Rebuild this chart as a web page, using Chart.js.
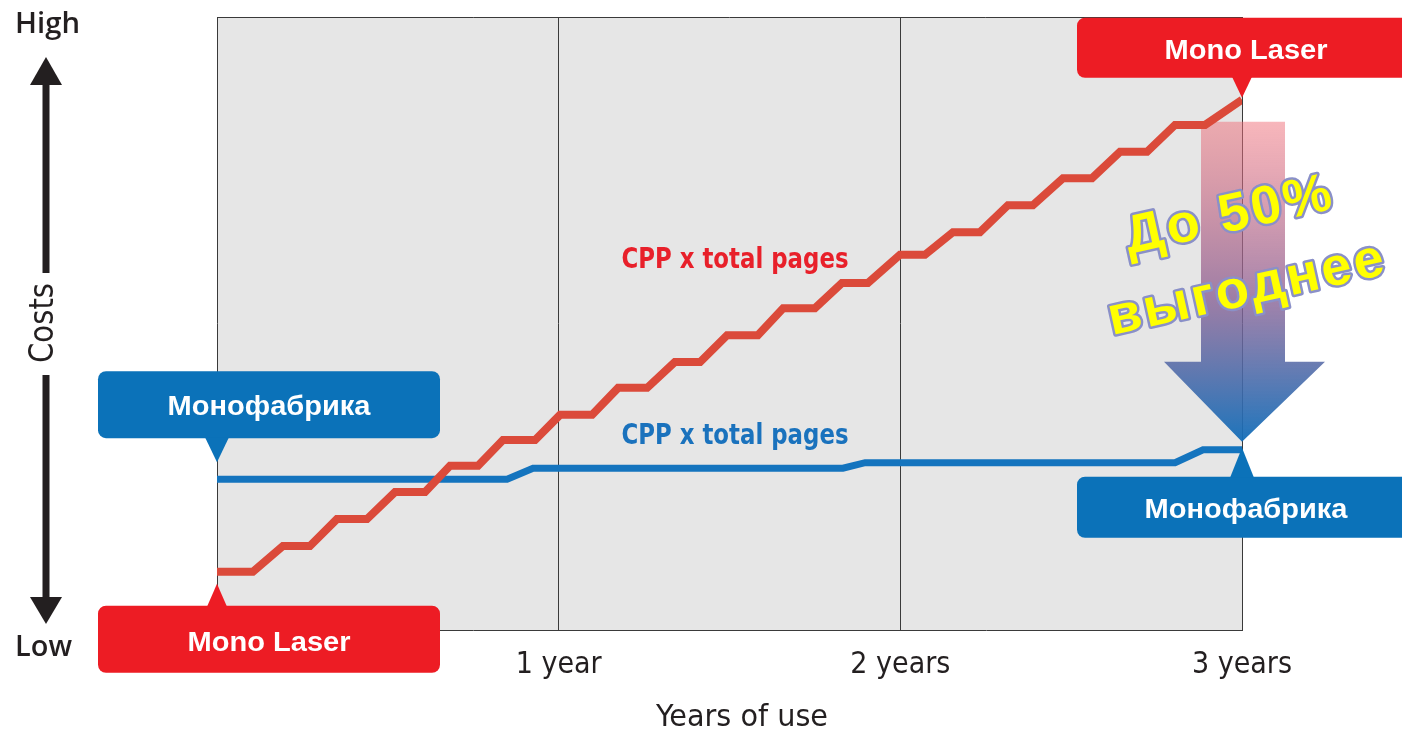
<!DOCTYPE html>
<html lang="ru">
<head>
<meta charset="UTF-8">
<title>Costs vs years of use</title>
<script src="https://cdn.jsdelivr.net/npm/chart.js"></script>
<style>
  html, body { margin: 0; padding: 0; background: #fff; }
  #grafico { display: block; }
</style>
</head>
<body>
<canvas id="grafico" width="1402" height="731"></canvas>
<script>
// values: x in years, y in cost units (0 = low, 100 = high)
var redX = [0, 0.105, 0.193, 0.272, 0.351, 0.439, 0.521, 0.609, 0.682, 0.764, 0.837, 0.931,
    1.004, 1.098, 1.174, 1.259, 1.340, 1.414, 1.493, 1.583, 1.657, 1.750, 1.829, 1.905,
    1.999, 2.072, 2.154, 2.233, 2.315, 2.388, 2.476, 2.561, 2.643, 2.722, 2.804, 2.892, 3.0];
var redY = [9.5, 9.5, 13.7, 13.7, 18.1, 18.1, 22.5, 22.5, 26.8, 26.8, 31.0, 31.0,
    35.1, 35.1, 39.5, 39.5, 43.7, 43.7, 48.1, 48.1, 52.5, 52.5, 56.6, 56.6,
    61.2, 61.2, 64.9, 64.9, 69.3, 69.3, 73.7, 73.7, 78.0, 78.0, 82.4, 82.4, 86.5];
var blueX = [0, 0.849, 0.925, 1.832, 1.897, 2.804, 2.886, 3.0];
var blueY = [24.6, 24.6, 26.4, 26.4, 27.3, 27.3, 29.4, 29.4];

var xTickValues = [0, 1, 2, 3];
var xTickLabels = ['', '1 year', '2 years', '3 years'];
var xTitle = 'Years of use';
var seriesText = 'CPP x total pages';
var nameMono = 'Монофабрика';
var nameLaser = 'Mono Laser';
var savingLines = ['До 50%', 'выгоднее'];

function hasFont(name) {
    var c = document.createElement('canvas').getContext('2d');
    var s = 'mmmmmwwwiilll 1 years';
    c.font = '40px monospace';
    var a = c.measureText(s).width;
    c.font = '40px "' + name + '", monospace';
    return c.measureText(s).width !== a;
}
var narrowName = ['Liberation Sans Narrow', 'DejaVu Sans Condensed', 'Roboto Condensed'].find(hasFont);
var narrow = narrowName ? '"' + narrowName + '"' : 'Roboto';

function pontos(xs, ys) {
    var out = [];
    for (var i = 0; i < xs.length; i++) out.push({ x: xs[i], y: ys[i] });
    return out;
}

// text squeezed/stretched to the width it has in the picture
function fitText(ctx, text, x, y, width, font, color, rot) {
    ctx.save();
    ctx.font = font;
    ctx.fillStyle = color;
    ctx.textAlign = 'center';
    ctx.textBaseline = 'alphabetic';
    var m = ctx.measureText(text).width;
    ctx.translate(x, y);
    if (rot) ctx.rotate(rot);
    ctx.scale(width / m, 1);
    ctx.fillText(text, 0, 0);
    ctx.restore();
}

function drawBox(ctx, bx, by, bw, bh, tipX, tipY, baseY, half, color) {
    ctx.save();
    ctx.fillStyle = color;
    ctx.beginPath();
    ctx.roundRect(bx, by, bw, bh, 8);
    ctx.fill();
    ctx.beginPath();
    ctx.moveTo(tipX - half, baseY);
    ctx.lineTo(tipX, tipY);
    ctx.lineTo(tipX + half, baseY);
    ctx.closePath();
    ctx.fill();
    ctx.restore();
}

var decor = {
    id: 'decor',
    beforeDraw: function (chart) {
        var a = chart.chartArea, ctx = chart.ctx;
        ctx.save();
        ctx.fillStyle = '#e6e6e6';
        ctx.fillRect(a.left, a.top, a.right - a.left, a.bottom - a.top);
        ctx.restore();
    },
    beforeDatasetsDraw: function (chart) {
        var a = chart.chartArea, ctx = chart.ctx;
        var xs = chart.scales.x, ys = chart.scales.y;
        ctx.save();
        ctx.strokeStyle = '#3a3a3a';
        ctx.lineWidth = 1;
        ctx.beginPath();
        ctx.moveTo(a.left, a.top + 0.5);
        ctx.lineTo(a.right, a.top + 0.5);
        ctx.stroke();

        // big arrow from the laser end down to the Монофабрика end
        var cx = xs.getPixelForValue(3);
        var top = ys.getPixelForValue(redY[redY.length - 1]) + 22;
        var tip = ys.getPixelForValue(blueY[blueY.length - 1]) - 8;
        var headY = tip - 80;
        var g = ctx.createLinearGradient(0, top, 0, tip);
        g.addColorStop(0, 'rgba(240,110,120,0.5)');
        g.addColorStop(0.55, 'rgba(140,100,150,0.8)');
        g.addColorStop(1, 'rgba(18,110,185,0.95)');
        ctx.fillStyle = g;
        ctx.beginPath();
        ctx.moveTo(cx - 41, top);
        ctx.lineTo(cx + 43, top);
        ctx.lineTo(cx + 43, headY);
        ctx.lineTo(cx + 83, headY);
        ctx.lineTo(cx, tip);
        ctx.lineTo(cx - 78, headY);
        ctx.lineTo(cx - 41, headY);
        ctx.closePath();
        ctx.fill();
        ctx.restore();
    },
    afterDatasetsDraw: function (chart) {
        var ctx = chart.ctx;
        fitText(ctx, seriesText, 735, 268, 227, 'bold 29px ' + narrow, '#e8202a');
        fitText(ctx, seriesText, 735, 444, 227, 'bold 29px ' + narrow, '#1a72bd');
    },
    afterDraw: function (chart) {
        var ctx = chart.ctx;
        var xs = chart.scales.x, ys = chart.scales.y;
        var x0 = xs.getPixelForValue(0), x3 = xs.getPixelForValue(3);
        var blue0 = ys.getPixelForValue(blueY[0]);
        var red0 = ys.getPixelForValue(redY[0]);
        var redEnd = ys.getPixelForValue(redY[redY.length - 1]);
        var blueEnd = ys.getPixelForValue(blueY[blueY.length - 1]);
        var boxFont = 'bold 28px "Liberation Sans", Arial, sans-serif';

        drawBox(ctx, x0 - 119, blue0 - 108, 342, 67, x0, blue0 - 17, blue0 - 42, 12, '#0b72b9');
        fitText(ctx, nameMono, x0 + 52, blue0 - 64, 203, boxFont, '#fff');

        drawBox(ctx, x0 - 119, red0 + 34, 342, 67, x0, red0 + 12, red0 + 35, 10, '#ed1c24');
        fitText(ctx, nameLaser, x0 + 52, red0 + 79, 163, boxFont, '#fff');

        drawBox(ctx, x3 - 165, redEnd - 82, 420, 60, x3, redEnd - 2, redEnd - 23, 10, '#ed1c24');
        fitText(ctx, nameLaser, x3 + 4, redEnd - 41, 163, boxFont, '#fff');

        drawBox(ctx, x3 - 165, blueEnd + 27, 420, 61, x3, blueEnd - 2, blueEnd + 28, 12, '#0b72b9');
        fitText(ctx, nameMono, x3 + 4, blueEnd + 68, 203, boxFont, '#fff');

        // x axis title, placed where the picture has it
        fitText(ctx, xTitle, 742, 726, 172, '31px ' + narrow, '#231f20');

        // Costs axis: double arrow
        ctx.save();
        ctx.fillStyle = '#231f20';
        ctx.fillRect(42.5, 84, 7, 189);
        ctx.fillRect(42.5, 375, 7, 223);
        ctx.beginPath();
        ctx.moveTo(30, 85); ctx.lineTo(46, 57); ctx.lineTo(62, 85); ctx.closePath(); ctx.fill();
        ctx.beginPath();
        ctx.moveTo(30, 597); ctx.lineTo(46, 624); ctx.lineTo(62, 597); ctx.closePath(); ctx.fill();
        ctx.restore();
        fitText(ctx, 'High', 47.5, 33, 65, '600 29px "Open Sans", sans-serif', '#231f20');
        fitText(ctx, 'Low', 43.5, 656, 57, '600 29px "Open Sans", sans-serif', '#231f20');
        fitText(ctx, 'Costs', 53, 323, 80, '34px ' + narrow, '#231f20', -Math.PI / 2);

        // WordArt style saving text
        var ang = -12.5 * Math.PI / 180;
        var anchors = [[1129, 254], [1112, 335]];
        ctx.save();
        ctx.font = 'bold 54px "Liberation Sans", Arial, sans-serif';
        ctx.letterSpacing = '3px';
        ctx.textAlign = 'left';
        ctx.textBaseline = 'alphabetic';
        ctx.lineJoin = 'round';
        for (var i = 0; i < savingLines.length; i++) {
            ctx.save();
            ctx.translate(anchors[i][0], anchors[i][1]);
            ctx.rotate(ang);
            ctx.strokeStyle = '#8a90c8';
            ctx.lineWidth = 5;
            ctx.strokeText(savingLines[i], 0, 0);
            ctx.fillStyle = '#ffff00';
            ctx.fillText(savingLines[i], 0, 0);
            ctx.restore();
        }
        ctx.restore();
    }
};

var ctx = document.getElementById('grafico');
var grafico = new Chart(ctx, {
    type: 'line',
    data: {
        datasets: [{
            label: 'Mono Laser',
            data: pontos(redX, redY),
            borderColor: '#db4a3a',
            borderWidth: 8,
            borderJoinStyle: 'miter',
            pointRadius: 0,
            tension: 0
        }, {
            label: 'Монофабрика',
            data: pontos(blueX, blueY),
            borderColor: '#1474be',
            borderWidth: 7,
            pointRadius: 0,
            tension: 0
        }]
    },
    options: {
        responsive: false,
        animation: false,
        devicePixelRatio: 1,
        layout: { padding: { left: 217, right: 160, top: 17, bottom: 0 } },
        plugins: {
            legend: { display: false },
            tooltip: { enabled: false }
        },
        scales: {
            x: {
                type: 'linear',
                min: 0,
                max: 3,
                afterBuildTicks: function (s) {
                    s.ticks = xTickValues.map(function (v) { return { value: v }; });
                },
                afterFit: function (s) {
                    s.height = 101;
                    s.paddingLeft = 0;
                    s.paddingRight = 0;
                },
                ticks: {
                    autoSkip: false,
                    maxRotation: 0,
                    padding: 17,
                    color: '#231f20',
                    font: { family: narrow, size: 30 },
                    callback: function (v) { return xTickLabels[xTickValues.indexOf(v)]; }
                },
                grid: { color: '#3a3a3a', lineWidth: 1, drawTicks: false },
                border: { display: true, color: '#3a3a3a', width: 1 },
                title: { display: false, text: xTitle }
            },
            y: { min: 0, max: 100, display: false }
        }
    },
    plugins: [decor]
});
</script>
</body>
</html>
